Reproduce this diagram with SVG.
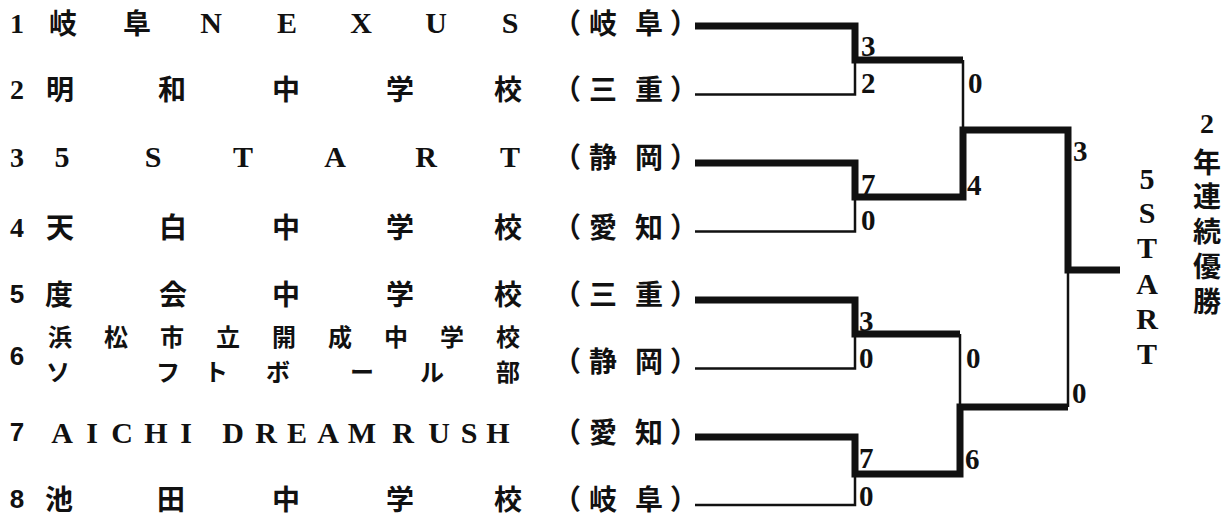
<svg xmlns="http://www.w3.org/2000/svg" width="1227" height="526" viewBox="0 0 1227 526">
<style>
.cj{font-family:"Noto Sans CJK JP","Noto Sans CJK SC",sans-serif;font-weight:700;font-size:28px;fill:#111;text-anchor:middle}
.cs{font-family:"Noto Sans CJK JP","Noto Sans CJK SC",sans-serif;font-weight:700;font-size:24px;fill:#111;text-anchor:middle}
.lt{font-family:"Liberation Serif","DejaVu Serif",serif;font-weight:700;font-size:30px;fill:#111;text-anchor:middle}
.l2{font-family:"Liberation Serif","DejaVu Serif",serif;font-weight:700;font-size:28px;fill:#111;text-anchor:middle}
.ns{font-family:"Liberation Serif",serif;font-weight:700;font-size:28px;fill:#111;text-anchor:middle}
.nn{font-family:"Liberation Sans",sans-serif;font-weight:700;font-size:26px;fill:#111;text-anchor:middle}
.sc{font-family:"Liberation Serif",serif;font-weight:700;font-size:29px;fill:#111}
.thk{fill:none;stroke:#111;stroke-width:7;stroke-linejoin:miter;stroke-linecap:butt}
.thn{fill:none;stroke:#111;stroke-width:2.5;stroke-linecap:butt}
</style>
<rect width="1227" height="526" fill="#fff"/>
<g id="team1">
<text class="ns" x="17" y="33">1</text>
<text class="cj" x="63 137" y="34">岐阜</text>
<text class="lt" x="211 287 361 436 510" y="33">NEXUS</text>
<text class="cj" x="567 603 649 684" y="34">（岐阜）</text>
</g>
<g id="team2">
<text class="ns" x="17" y="99">2</text>
<text class="cj" x="60 172 286 400 508" y="100">明和中学校</text>
<text class="cj" x="567 603 649 684" y="100">（三重）</text>
</g>
<g id="team3">
<text class="ns" x="17" y="167">3</text>
<text class="lt" x="62 153 243 335 426 510" y="167">5START</text>
<text class="cj" x="567 603 649 684" y="168">（静岡）</text>
</g>
<g id="team4">
<text class="ns" x="17" y="237">4</text>
<text class="cj" x="60 173 286 400 508" y="238">天白中学校</text>
<text class="cj" x="567 603 649 684" y="238">（愛知）</text>
</g>
<g id="team5">
<text class="nn" x="17" y="303">5</text>
<text class="cj" x="59 173 286 400 508" y="305">度会中学校</text>
<text class="cj" x="567 603 649 684" y="305">（三重）</text>
</g>
<g id="team6">
<text class="nn" x="17" y="365">6</text>
<text class="cs" x="60 116 172 228 284 340 396 452 508" y="346">浜松市立開成中学校</text>
<text class="cs" x="58 168 216 278 362 432 508" y="381">ソフトボール部</text>
<text class="cj" x="567 603 649 684" y="372">（静岡）</text>
</g>
<g id="team7">
<text class="nn" x="17" y="441">7</text>
<text class="lt" x="62 92 122 156 186 233 266 297 328 362 403 439 469 498" y="443">AICHIDREAMRUSH</text>
<text class="cj" x="567 603 649 684" y="443">（愛知）</text>
</g>
<g id="team8">
<text class="nn" x="17" y="508">8</text>
<text class="cj" x="59 171 286 400 508" y="510">池田中学校</text>
<text class="cj" x="567 603 649 684" y="510">（岐阜）</text>
</g>
<g id="connectors">
<path class="thn" d="M695,94.5 H855 V60"/>
<path class="thn" d="M695,231.5 H855 V197"/>
<path class="thn" d="M963,60 V130"/>
<path class="thn" d="M695,368.5 H855 V334"/>
<path class="thn" d="M695,505 H855 V474"/>
<path class="thn" d="M960,334 V407"/>
<path class="thn" d="M1068,407 V270"/>
<path class="thk" d="M695,26 H855 V60 H963"/>
<path class="thk" d="M695,163 H855 V197 H963 V130 H1068 V270 H1120"/>
<path class="thk" d="M695,300 H855 V334 H960"/>
<path class="thk" d="M695,437 H855 V474 H960 V407 H1068"/>
</g>
<g id="scores">
<text class="sc" x="861" y="56">3</text>
<text class="sc" x="861" y="93">2</text>
<text class="sc" x="968" y="93">0</text>
<text class="sc" x="861" y="194">7</text>
<text class="sc" x="861" y="230">0</text>
<text class="sc" x="967" y="195">4</text>
<text class="sc" x="1073" y="161">3</text>
<text class="sc" x="859" y="331">3</text>
<text class="sc" x="859" y="368">0</text>
<text class="sc" x="966" y="368">0</text>
<text class="sc" x="1072" y="403">0</text>
<text class="sc" x="859" y="468">7</text>
<text class="sc" x="965" y="469">6</text>
<text class="sc" x="859" y="506">0</text>
</g>
<g id="champion">
<text class="lt" x="1147 1147 1147 1147 1147 1147" y="189 223 258 294 329 364">5START</text>
<text class="l2" x="1207" y="133">2</text>
<text class="cj" x="1207 1207 1207 1207 1207" y="173 207 242 277 312">年連続優勝</text>
</g>
</svg>
